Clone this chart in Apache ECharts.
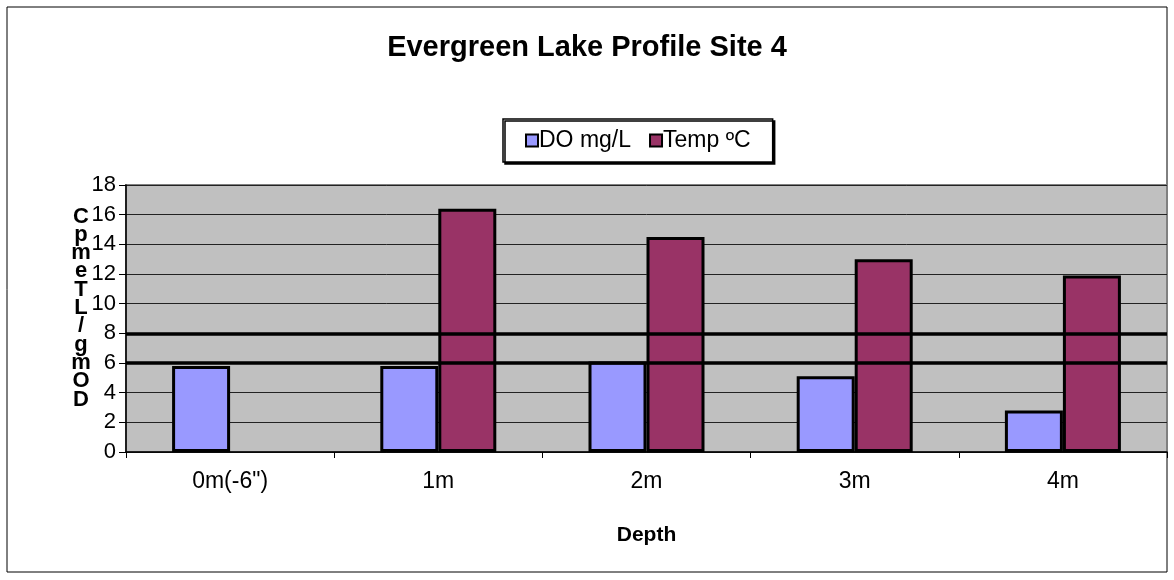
<!DOCTYPE html>
<html>
<head>
<meta charset="utf-8">
<title>Evergreen Lake Profile Site 4</title>
<script src="https://cdn.jsdelivr.net/npm/echarts@6/dist/echarts.min.js"></script>
<style>
  html, body { margin: 0; padding: 0; background: #fff; }
  #chart { width: 1174px; height: 580px; }
</style>
</head>
<body>
<div id="chart"></div>
<script>
// data
const depths = ['0m(-6")', '1m', '2m', '3m', '4m'];
const doValues = [5.8, 5.8, 6.1, 5.1, 2.8];
const tempValues = [null, 16.4, 14.5, 13.0, 11.9];
const thickLines = [6, 8];
const yTitle = ['C', 'p', 'm', 'e', 'T', 'L', '/', 'g', 'm', 'O', 'D'];

const font = '"Liberation Sans", Arial, sans-serif';

const chart = echarts.init(document.getElementById('chart'));

chart.setOption({
    animation: false,
    backgroundColor: '#fff',
    textStyle: { fontFamily: font },
    title: {
        text: 'Evergreen Lake Profile Site 4',
        left: 'center',
        top: 33,
        padding: 0,
        textStyle: { fontSize: 29, fontWeight: 'bold', color: '#000', fontFamily: font }
    },
    legend: {
        data: ['DO mg/L', 'Temp ºC'],
        left: 503,
        top: 119,
        padding: [10, 22, 10, 22],
        itemGap: 18,
        itemWidth: 12,
        itemHeight: 12,
        icon: 'rect',
        backgroundColor: '#fff',
        borderColor: '#000',
        borderWidth: 1.5,
        shadowColor: '#000',
        shadowOffsetX: 2,
        shadowOffsetY: 2,
        shadowBlur: 0,
        textStyle: { fontSize: 23, color: '#000', fontFamily: font, padding: [0, 0, 0, -4] },
        itemStyle: { borderColor: '#000', borderWidth: 2 }
    },
    grid: {
        left: 126,
        right: 7,
        top: 185,
        bottom: 128,
        show: true,
        backgroundColor: '#c0c0c0',
        borderColor: '#808080',
        borderWidth: 2
    },
    graphic: [
        {
            type: 'rect',
            z: -1,
            shape: { x: 7, y: 7, width: 1160, height: 565 },
            style: { fill: 'none', stroke: '#000', lineWidth: 1 }
        },
        {
            type: 'text',
            x: 81,
            y: 308,
            style: {
                text: yTitle.join('\n'),
                align: 'center',
                verticalAlign: 'middle',
                lineHeight: 18.3,
                font: 'bold 22px ' + font,
                fill: '#000'
            }
        }
    ],
    xAxis: {
        type: 'category',
        data: depths,
        name: 'Depth',
        nameLocation: 'middle',
        nameGap: 73,
        nameTextStyle: { fontSize: 21, fontWeight: 'bold', color: '#000' },
        axisLine: { lineStyle: { color: '#000', width: 1.5 } },
        axisTick: { show: true, length: 6, lineStyle: { color: '#000' } },
        axisLabel: { fontSize: 23, color: '#000', margin: 18 },
        splitLine: { show: false }
    },
    yAxis: {
        type: 'value',
        min: 0,
        max: 18,
        interval: 2,
        axisLine: { show: true, lineStyle: { color: '#000', width: 1.5 } },
        axisTick: { show: true, length: 7, lineStyle: { color: '#000' } },
        axisLabel: { fontSize: 22, color: '#000', margin: 10, align: 'right' },
        splitLine: { show: true, lineStyle: { color: '#222', width: 1 } }
    },
    series: [
        {
            name: 'lines',
            type: 'line',
            data: [],
            z: 1,
            silent: true,
            markLine: {
                silent: true,
                symbol: 'none',
                label: { show: false },
                lineStyle: { color: '#000', width: 3.5, type: 'solid' },
                data: thickLines.map(v => ({ yAxis: v }))
            }
        },
        {
            name: 'DO mg/L',
            type: 'bar',
            z: 3,
            data: doValues,
            barWidth: 58,
            barGap: '0%',
            itemStyle: { color: '#9999ff', borderColor: '#000', borderWidth: 3 }
        },
        {
            name: 'Temp ºC',
            type: 'bar',
            z: 3,
            data: tempValues,
            barWidth: 58,
            barGap: '0%',
            itemStyle: { color: '#993366', borderColor: '#000', borderWidth: 3 }
        }
    ]
});
</script>
</body>
</html>
